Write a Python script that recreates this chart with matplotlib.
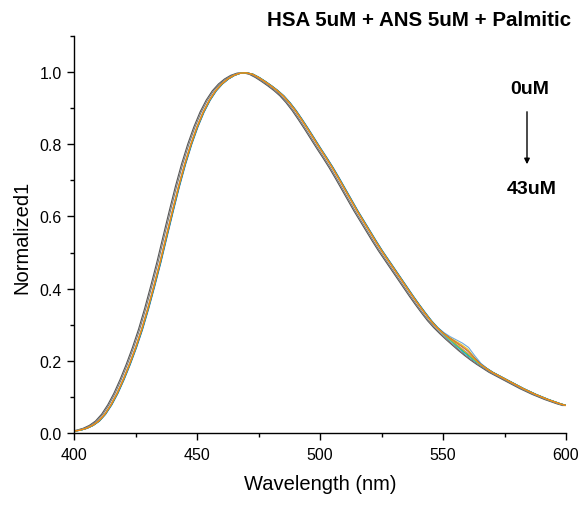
"""Normalized ANS emission spectra of HSA with increasing palmitic acid."""

import matplotlib.pyplot as plt
import numpy as np
from matplotlib.ticker import MultipleLocator

plt.rcParams["font.family"] = ["Liberation Sans", "DejaVu Sans"]

# Emission wavelengths (nm), 2.5 nm steps, and the normalized spectrum
wavelength = [400 + 2.5 * i for i in range(81)]
intensity = [0.005, 0.008, 0.013, 0.021, 0.033, 0.052, 0.078, 0.110, 0.148, 0.190,
             0.236, 0.287, 0.345, 0.408, 0.474, 0.545, 0.615, 0.683, 0.745, 0.800,
             0.848, 0.889, 0.922, 0.948, 0.967, 0.981, 0.991, 0.997, 0.998, 0.994,
             0.985, 0.974, 0.962, 0.949, 0.934, 0.915, 0.893, 0.868, 0.842, 0.815,
             0.788, 0.762, 0.735, 0.706, 0.676, 0.646, 0.616, 0.588, 0.560, 0.532,
             0.505, 0.480, 0.455, 0.430, 0.405, 0.380, 0.356, 0.333, 0.311, 0.292,
             0.275, 0.259, 0.244, 0.229, 0.215, 0.202, 0.190, 0.179, 0.168, 0.159,
             0.150, 0.141, 0.132, 0.123, 0.115, 0.107, 0.100, 0.093, 0.087, 0.081,
             0.076]
# small shoulder near 560 nm seen on some of the traces
shoulder = [0.0] * 60 + [0.003, 0.008, 0.014, 0.020, 0.022, 0.012, 0.003] + [0.0] * 14

# one trace per palmitic acid concentration: colour, shift (nm), shoulder weight
trace_colors = ["#555555", "#7a7a7a", "#e377c2", "#9467bd", "#6fa8dc",
                "#e6c229", "#2ca02c", "#17becf", "#1f77b4", "#bcbd22", "#ff7f0e"]
trace_shift = [-1.3, -0.8, 0.0, 0.2, 0.4, 0.0, 0.2, 0.0, 0.3, 0.1, 0.0]
trace_shoulder = [0.0, 0.0, 0.3, 0.0, 1.0, 0.8, 0.0, 0.0, 0.5, 0.2, 0.6]


def main() -> None:
    fig = plt.figure(figsize=(5.8, 5.06), dpi=100)
    ax = fig.add_axes([0.1276, 0.1423, 0.8483, 0.7846])

    wl = np.array(wavelength, dtype=float)
    base = np.array(intensity)
    bump = np.array(shoulder)
    for color, shift, sh in zip(trace_colors, trace_shift, trace_shoulder):
        ax.plot(wl + shift, base + sh * bump, color=color, linewidth=0.8)

    ax.set_xlim(400, 600)
    ax.set_ylim(0, 1.1)
    ax.xaxis.set_major_locator(MultipleLocator(50))
    ax.xaxis.set_minor_locator(MultipleLocator(25))
    ax.yaxis.set_minor_locator(MultipleLocator(0.1))
    ax.set_yticks([0, 0.2, 0.4, 0.6, 0.8, 1.0])
    ax.set_yticklabels(["0.0", "0.2", "0.4", "0.6", "0.8", "1.0"])
    ax.tick_params(which="major", direction="out", length=5, width=1, labelsize=11.5)
    ax.tick_params(axis="x", which="major", pad=5)
    ax.tick_params(axis="y", which="major", pad=4)
    ax.tick_params(which="minor", direction="out", length=3, width=1)
    for side in ("top", "right"):
        ax.spines[side].set_visible(False)
    for side in ("left", "bottom"):
        ax.spines[side].set_linewidth(1)

    ax.set_xlabel("Wavelength (nm)", fontsize=14.5, va="center")
    ax.xaxis.set_label_coords((320 - 74) / 492, (434 - 485) / 397)
    ax.set_ylabel("Normalized1", fontsize=14.5, va="center")
    ax.yaxis.set_label_coords((22 - 74) / 492, (434 - 237) / 397)

    # the title runs off the right edge in the original; only the visible part is kept
    fig.text(267 / 580, 1 - 20 / 506, "HSA 5uM + ANS 5uM + Palmitic",
             fontsize=14.8, fontweight="bold", ha="left", va="center")
    fig.text(530 / 580, 1 - 89 / 506, "0uM", fontsize=14, fontweight="bold",
             ha="center", va="center")
    fig.text(532 / 580, 1 - 190 / 506, "43uM", fontsize=14, fontweight="bold",
             ha="center", va="center")
    ax.annotate("", xy=(527 / 580, 1 - 168 / 506), xytext=(527 / 580, 1 - 110 / 506),
                xycoords="figure fraction", textcoords="figure fraction",
                arrowprops=dict(arrowstyle="-|>", color="black", lw=1,
                                mutation_scale=8))

    fig.savefig("out.png", dpi=100)
    plt.close(fig)


if __name__ == "__main__":
    main()
